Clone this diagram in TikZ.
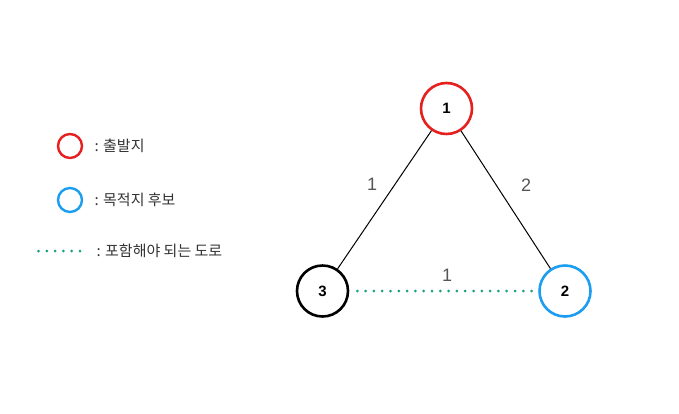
\documentclass[tikz,border=0pt]{standalone}
\usepackage{fontspec}
\setmainfont{Liberation Sans}
\newfontfamily\krfont{Noto Sans CJK KR}
\definecolor{cred}{HTML}{E5201F}
\definecolor{cblue}{HTML}{1B9DF0}
\definecolor{cteal}{HTML}{1AA07E}
\definecolor{cgray}{HTML}{555555}
\definecolor{ctext}{HTML}{333333}
\begin{document}
\begin{tikzpicture}[x=1pt,y=-1pt,
  vnode/.style={circle,line width=2.6pt,minimum size=51pt,inner sep=0pt,font=\bfseries\fontsize{15}{15}\selectfont},
  lcircle/.style={circle,line width=2.4pt,minimum size=24pt,inner sep=0pt},
  road/.style={cteal,line width=3pt,line cap=round,dash pattern=on 0pt off 8.3pt},
  edge/.style={black,line width=1pt},
  elabel/.style={text=cgray,font=\fontsize{18}{18}\selectfont},
  ltext/.style={text=ctext,anchor=west,font=\krfont\fontsize{15}{15}\selectfont}]
\useasboundingbox (0,0) rectangle (679,413);
\node[vnode,draw=cred] (n1) at (446.5,108.5) {1};
\node[vnode,draw=black] (n3) at (322.5,291) {3};
\node[vnode,draw=cblue] (n2) at (565,291) {2};
\draw[edge] (n1) -- (n3);
\draw[edge] (n1) -- (n2);
\draw[road] ([xshift=8pt]n3.east) coordinate (r0) -- ([xshift=-4pt]n2.west) coordinate (r1);
\node[elabel] (l13) at (372,184) {1};
\node[elabel] (l12) at (526,185) {2};
\node[elabel] (l32) at (447,275) {1};
% legend
\node[lcircle,draw=cred] (lc1) at (70,146) {};
\node[ltext] (lt1) at (91,146) {: 출발지};
\node[lcircle,draw=cblue] (lc2) at (70,200) {};
\node[ltext] (lt2) at (91,200) {: 목적지 후보};
\coordinate (d0) at (38.5,251);
\coordinate (d1) at (80.5,251);
\draw[road] (d0) -- (d1);
\node[ltext] (lt3) at (93,251) {: 포함해야 되는 도로};
\end{tikzpicture}
\end{document}
